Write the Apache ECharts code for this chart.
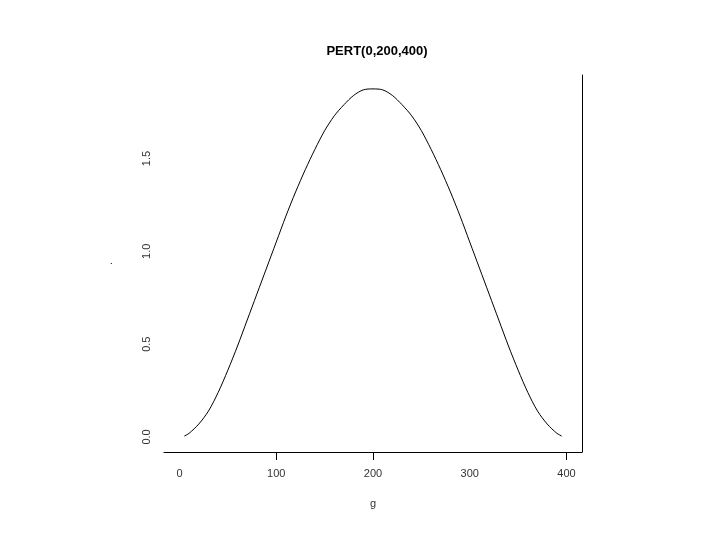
<!DOCTYPE html>
<html>
<head>
<meta charset="utf-8">
<script src="https://cdn.jsdelivr.net/npm/echarts@6/dist/echarts.min.js"></script>
<style>
  html, body { margin: 0; padding: 0; background: #fff; }
  #chart { width: 720px; height: 540px; }
</style>
</head>
<body>
<div id="chart"></div>
<script>
  // values
  var gValues = [5, 10, 20, 30, 40, 50, 60, 70, 80, 90, 100, 110, 120, 130, 140, 150, 160, 170, 180, 190,
                 200, 210, 220, 230, 240, 250, 260, 270, 280, 290, 300, 310, 320, 330, 340, 350, 360, 370, 380, 390, 395];
  var density = [0.005, 0.02, 0.07, 0.14, 0.24, 0.36, 0.49, 0.63, 0.77, 0.91, 1.05, 1.19, 1.32, 1.44, 1.55, 1.65, 1.73, 1.79, 1.84, 1.87,
                 1.875, 1.87, 1.84, 1.79, 1.73, 1.65, 1.55, 1.44, 1.32, 1.19, 1.05, 0.91, 0.77, 0.63, 0.49, 0.36, 0.24, 0.14, 0.07, 0.02, 0.005];
  var xLabels = [0, 100, 200, 300, 400];
  var xTicks = [100, 200, 400];
  var yLabels = [0, 0.5, 1, 1.5];

  var chart = echarts.init(document.getElementById('chart'));
  chart.setOption({
    animation: false,
    title: {
      text: 'PERT(0,200,400)',
      left: 372,
      top: 40,
      textAlign: 'center',
      textStyle: { fontFamily: 'Liberation Sans', fontSize: 13, fontWeight: 'bold', color: '#000' }
    },
    grid: { left: 164, right: 138, top: 75, bottom: 88 },
    xAxis: {
      type: 'value',
      min: -16,
      max: 416,
      name: 'g',
      nameLocation: 'middle',
      nameGap: 46,
      nameTextStyle: { fontFamily: 'Liberation Sans', fontSize: 11, color: '#333' },
      splitLine: { show: false },
      axisLine: { onZero: false, lineStyle: { color: '#000', width: 1 } },
      axisTick: { customValues: xTicks, length: 8, inside: false, lineStyle: { color: '#000' } },
      axisLabel: {
        customValues: xLabels,
        margin: 16,
        fontFamily: 'Liberation Sans',
        fontSize: 11,
        color: '#333'
      }
    },
    yAxis: [{
      type: 'value',
      min: -0.081,
      max: 1.95,
      name: '.',
      nameLocation: 'middle',
      nameGap: 50,
      nameTextStyle: { fontSize: 11, color: '#333' },
      splitLine: { show: false },
      axisLine: { show: false },
      axisTick: { show: false },
      axisLabel: {
        customValues: yLabels,
        rotate: 90,
        margin: 12,
        fontFamily: 'Liberation Sans',
        fontSize: 11,
        color: '#333',
        formatter: function (v) { return v.toFixed(1); }
      }
    }, {
      type: 'value',
      position: 'right',
      min: -0.081,
      max: 1.95,
      splitLine: { show: false },
      axisLine: { show: true, onZero: false, lineStyle: { color: '#000', width: 1 } },
      axisTick: { show: false },
      axisLabel: { show: false }
    }],
    series: [{
      type: 'line',
      data: gValues.map(function (g, i) { return [g, density[i]]; }),
      smooth: 0.3,
      showSymbol: false,
      lineStyle: { color: '#000', width: 1 }
    }]
  });
</script>
</body>
</html>
